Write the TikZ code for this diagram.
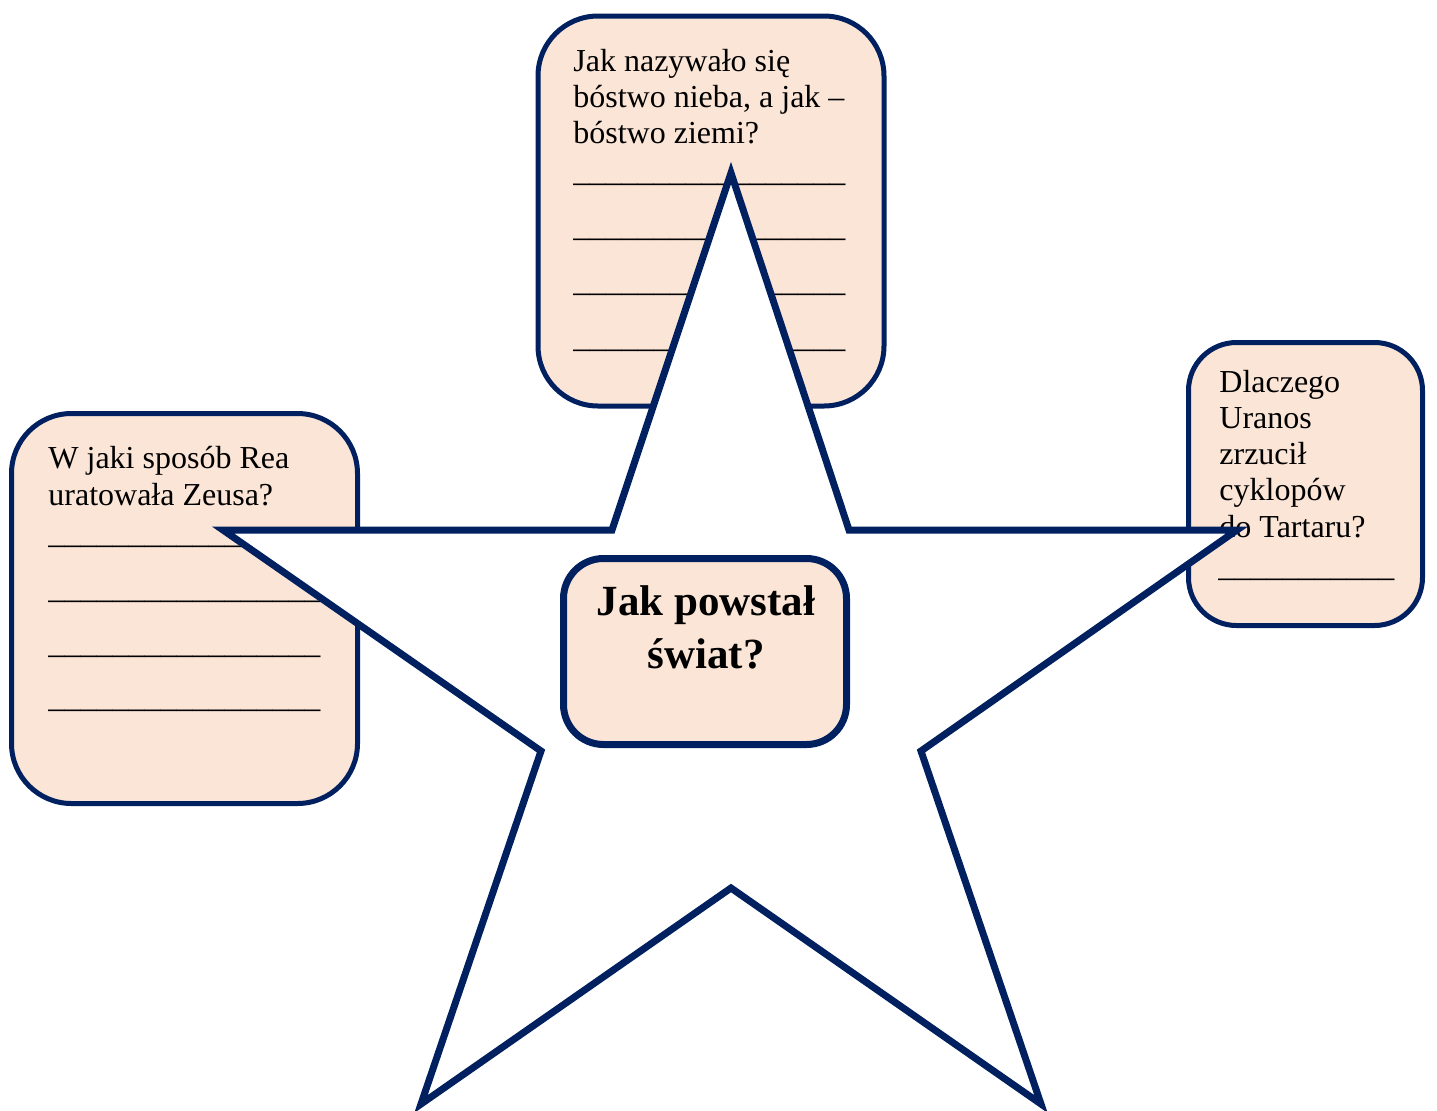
\documentclass[tikz,border=0pt]{standalone}
\usepackage{fontspec}
\setmainfont{Liberation Serif}
\definecolor{navy}{HTML}{002060}
\definecolor{peach}{HTML}{FBE5D6}
\newcommand{\blankline}[1]{\foreach \i in {1,...,#1}{\_}}
\begin{document}
\begin{tikzpicture}[x=0.5pt,y=-0.5pt,
  qbox/.style={draw=navy,fill=peach,line width=2.5pt,rectangle,inner sep=0pt},
  txt/.style={anchor=base west,inner sep=0pt,font=\fontsize{16}{18}\selectfont},
  ttl/.style={anchor=base,inner sep=0pt,font=\fontsize{21.5}{26}\selectfont\bfseries},
  starline/.style={draw=navy,fill=white,line width=3.5pt,line join=miter}]
\useasboundingbox (0,0) rectangle (1437,1110);

% top box
\node[qbox,minimum width=173pt,minimum height=195pt,rounded corners=30pt] (topbox) at (711,211) {};
\node[txt] (t1) at (573,71) {Jak nazywało się};
\node[txt] (t2) at (573,107) {bóstwo nieba, a jak –};
\node[txt] (t3) at (573,143) {bóstwo ziemi?};
\node[txt] (t4) at (573,181) {\_\_\_\_\_\_\_\_\_\_\_\_\_\_\_\_\_};
\node[txt] (t5) at (573,236) {\_\_\_\_\_\_\_\_\_\_\_\_\_\_\_\_\_};
\node[txt] (t6) at (573,291) {\_\_\_\_\_\_\_\_\_\_\_\_\_\_\_\_\_};
\node[txt] (t7) at (573,347) {\_\_\_\_\_\_\_\_\_\_\_\_\_\_\_\_\_};

% left box
\node[qbox,minimum width=173pt,minimum height=195pt,rounded corners=30pt] (leftbox) at (184.5,608.5) {};
\node[txt] (l1) at (48,468) {W jaki sposób Rea};
\node[txt] (l2) at (48,505) {uratowała Zeusa?};
\node[txt] (l3) at (48,543) {\_\_\_\_\_\_\_\_\_\_\_\_\_\_\_\_\_};
\node[txt] (l4) at (48,598) {\_\_\_\_\_\_\_\_\_\_\_\_\_\_\_\_\_};
\node[txt] (l5) at (48,653) {\_\_\_\_\_\_\_\_\_\_\_\_\_\_\_\_\_};
\node[txt] (l6) at (48,707) {\_\_\_\_\_\_\_\_\_\_\_\_\_\_\_\_\_};

% right box
\node[qbox,minimum width=117pt,minimum height=141.5pt,rounded corners=24pt] (rightbox) at (1305.5,484) {};
\node[txt] (r1) at (1219,392) {Dlaczego};
\node[txt] (r2) at (1219,428) {Uranos};
\node[txt] (r3) at (1219,464) {zrzucił};
\node[txt] (r4) at (1219,500) {cyklopów};
\node[txt] (r5) at (1219,537) {do Tartaru?};
\node[txt] (r6) at (1218,576) {\_\_\_\_\_\_\_\_\_\_\_};

% star
\coordinate (sTop) at (731,173);
\coordinate (sUL) at (612,530);
\coordinate (sL) at (223,530);
\coordinate (sLL) at (541,751);
\coordinate (sBL) at (421,1104);
\coordinate (sB) at (731,888);
\coordinate (sBR) at (1041,1104);
\coordinate (sLR) at (921,751);
\coordinate (sR) at (1237,530);
\coordinate (sUR) at (849,530);
\draw[starline] (sTop) -- (sUR) -- (sR) -- (sLR) -- (sBR) -- (sB) -- (sBL) -- (sLL) -- (sL) -- (sUL) -- cycle;

% center box
\node[qbox,line width=3.5pt,minimum width=141.5pt,minimum height=93pt,rounded corners=20pt] (centerbox) at (705,651.5) {};
\node[ttl] (c1) at (706,615) {Jak powstał};
\node[ttl] (c2) at (706,668) {świat?};
\end{tikzpicture}
\end{document}
